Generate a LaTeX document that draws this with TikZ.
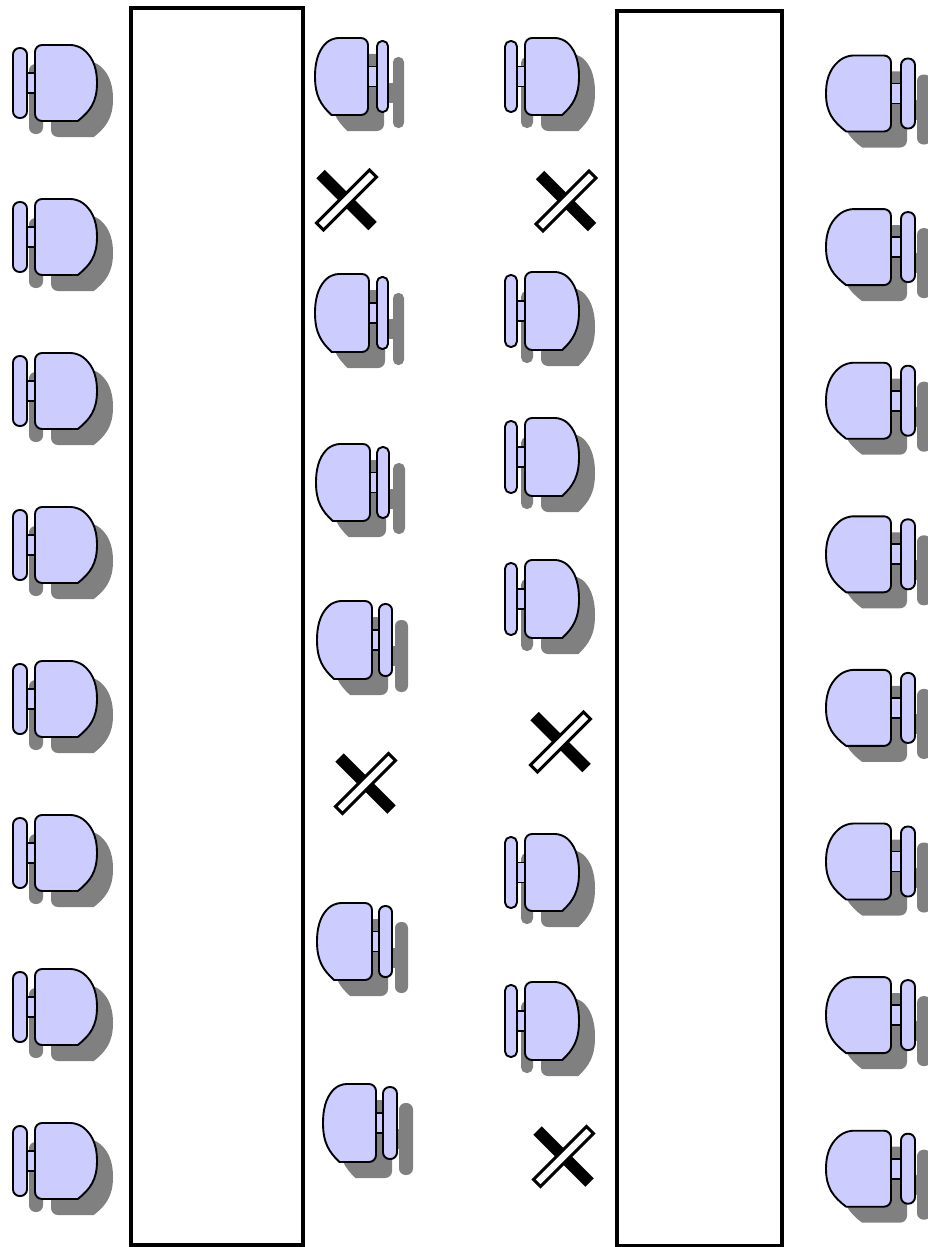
\documentclass[tikz,border=0pt]{standalone}
\definecolor{seatfill}{RGB}{204,204,255}
\definecolor{shadowgray}{RGB}{128,128,128}
\tikzset{
  chairline/.style={draw=black, line width=1.9pt, fill=seatfill, line join=round},
  chairshadow/.style={fill=shadowgray},
  tablebox/.style={draw=black, line width=4pt, fill=white},
}
\newcommand\chairshape[1]{%
  \path[#1] (\cXs,{\cM-10}) rectangle (\cXg,{\cM+10});
  \path[#1, rounded corners=\cBr pt] (\cXg,{\cT+3}) rectangle (\cXh,{\cB-3});
  \path[#1, rounded corners=7pt] (\cXs,\cM) -- (\cXs,\cT) -- (\cPa,\cT) [sharp corners]
     .. controls (\cPb,\cTb) and (\cXf,\cTc) .. (\cXf,\cM)
     .. controls (\cXf,\cBc) and (\cPb,\cBb) .. (\cPa,\cB) [rounded corners=7pt] -- (\cXs,\cB) -- cycle;
}
% #1 straight seat side x, #2 direction (+1 seat to the right of back), #3 seat width,
% #4 seat top y, #5 seat height, #6 gap seat-back, #7 back width
\newcommand\chair[7]{%
  \pgfmathsetmacro\cXs{#1}%
  \pgfmathsetmacro\cD{#2}%
  \pgfmathsetmacro\cW{#3}%
  \pgfmathsetmacro\cT{#4}%
  \pgfmathsetmacro\cHh{#5}%
  \pgfmathsetmacro\cB{\cT+\cHh}%
  \pgfmathsetmacro\cM{\cT+\cHh/2}%
  \pgfmathsetmacro\cPa{\cXs+\cD*0.69*\cW}%
  \pgfmathsetmacro\cPb{\cXs+\cD*0.89*\cW}%
  \pgfmathsetmacro\cXf{\cXs+\cD*\cW}%
  \pgfmathsetmacro\cTb{\cT+0.13*\cHh}%
  \pgfmathsetmacro\cTc{\cT+0.25*\cHh}%
  \pgfmathsetmacro\cBb{\cB-0.13*\cHh}%
  \pgfmathsetmacro\cBc{\cB-0.25*\cHh}%
  \pgfmathsetmacro\cXg{\cXs-\cD*#6}%
  \pgfmathsetmacro\cXh{\cXs-\cD*(#6+#7)}%
  \pgfmathsetmacro\cBr{#7/2-0.4}%
  \begin{scope}[shift={(16,16)}]\chairshape{chairshadow}\end{scope}
  \chairshape{chairline}
}
\newcommand\crossmark[2]{%
  \draw[line width=12pt] ({#1-26},{#2-26}) -- ({#1+26},{#2+26});
  \draw[fill=white, line width=3pt, line join=miter]
     ({#1-30},{#2+23}) -- ({#1-23},{#2+30}) -- ({#1+30},{#2-23}) -- ({#1+23},{#2-30}) -- cycle;
}
\begin{document}
\begin{tikzpicture}[x=1pt,y=-1pt]
\useasboundingbox (0,0) rectangle (927,1247);
\fill[white] (0,0) rectangle (927,1247);
% tables
\draw[tablebox] (130.5,8) rectangle (303,1244.5);
\draw[tablebox] (617,11) rectangle (782,1245.5);
% column 1 (left of table 1)
\foreach \i in {0,...,7}{
  \chair{35}{1}{62}{45+154*\i}{76}{8}{14}
}
% column 4 (right of table 2)
\foreach \i in {0,...,7}{
  \chair{891}{-1}{65}{55.5+153.6*\i}{76}{10}{14}
}
% column 2 (right of table 1)
\chair{368}{-1}{53}{38}{77}{9}{11}
\chair{369}{-1}{54}{274}{78}{8}{11}
\chair{370}{-1}{54}{444}{77}{7}{12}
\chair{372}{-1}{55}{601}{78}{7}{13}
\chair{372}{-1}{55}{903}{77}{7}{13}
\chair{376}{-1}{53}{1084}{78}{7}{14}
% column 3 (left of table 2)
\chair{525}{1}{54}{38}{77}{8}{12}
\chair{525}{1}{54}{272}{78}{8}{12}
\chair{525}{1}{54}{418}{78}{8}{12}
\chair{525}{1}{54}{560}{78}{8}{12}
\chair{525}{1}{54}{834}{77}{8}{12}
\chair{525}{1}{54}{982}{78}{8}{12}
% crosses
\crossmark{346.5}{200}
\crossmark{566}{201}
\crossmark{365.5}{783.5}
\crossmark{560.5}{742}
\crossmark{563.5}{1156.5}
\end{tikzpicture}
\end{document}
